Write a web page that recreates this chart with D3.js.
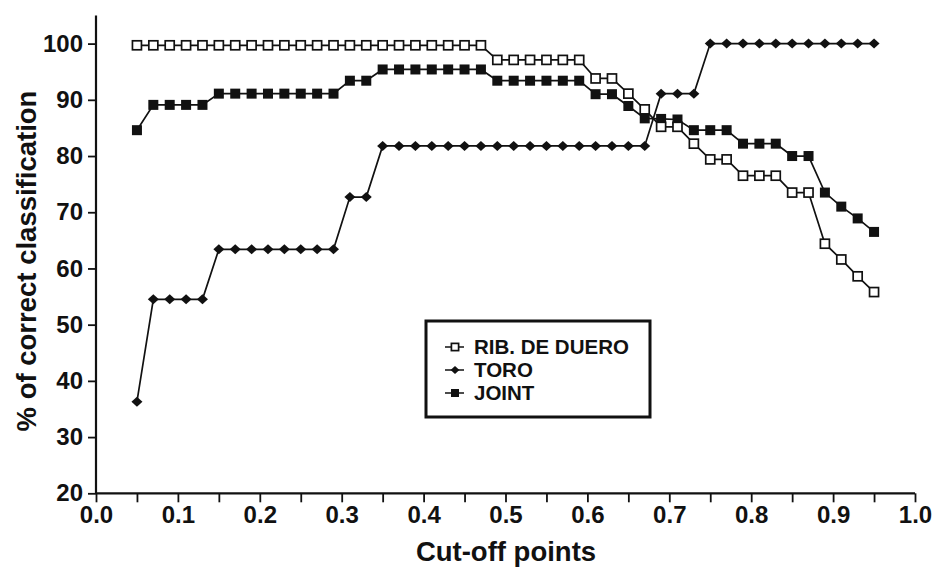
<!DOCTYPE html>
<html><head><meta charset="utf-8">
<script src="https://cdn.jsdelivr.net/npm/d3@7"></script>
<style>
html,body{margin:0;padding:0;background:#fff;}
text{font-family:"Liberation Sans",Arial,Helvetica,sans-serif;font-weight:bold;fill:#111;}
</style></head>
<body>
<svg id="chart" width="937" height="568"></svg>
<script>
const cutoffs = [0.05,0.07,0.09,0.11,0.13,0.15,0.17,0.19,0.21,0.23,0.25,0.27,0.29,0.31,0.33,0.35,0.37,0.39,0.41,0.43,0.45,0.47,0.49,0.51,0.53,0.55,0.57,0.59,0.61,0.63,0.65,0.67,0.69,0.71,0.73,0.75,0.77,0.79,0.81,0.83,0.85,0.87,0.89,0.91,0.93,0.95];
const ribDeDuero = [99.7,99.7,99.7,99.7,99.7,99.7,99.7,99.7,99.7,99.7,99.7,99.7,99.7,99.7,99.7,99.7,99.7,99.7,99.7,99.7,99.7,99.7,
  97.1,97.1,97.1,97.1,97.1,97.1,93.8,93.8,91.1,88.3,85.2,85.2,82.2,79.4,79.4,76.5,76.5,76.5,73.5,73.5,64.4,61.6,58.6,55.8];
const toro = [36.3,54.5,54.5,54.5,54.5,63.4,63.4,63.4,63.4,63.4,63.4,63.4,63.4,72.7,72.7,
  81.8,81.8,81.8,81.8,81.8,81.8,81.8,81.8,81.8,81.8,81.8,81.8,81.8,81.8,81.8,81.8,81.8,
  91.1,91.1,91.1,100,100,100,100,100,100,100,100,100,100,100];
const joint = [84.6,89.1,89.1,89.1,89.1,91.1,91.1,91.1,91.1,91.1,91.1,91.1,91.1,93.4,93.4,
  95.4,95.4,95.4,95.4,95.4,95.4,95.4,93.4,93.4,93.4,93.4,93.4,93.4,91.0,91.0,88.9,86.7,86.6,86.5,
  84.6,84.6,84.6,82.2,82.2,82.2,80.0,80.0,73.5,71.0,68.9,66.5];
const xTicks = [0,0.05,0.1,0.15,0.2,0.25,0.3,0.35,0.4,0.45,0.5,0.55,0.6,0.65,0.7,0.75,0.8,0.85,0.9,0.95,1.0];
const yTicks = [20,30,40,50,60,70,80,90,100];
const seriesNames = ["RIB. DE DUERO","TORO","JOINT"];

const svg = d3.select("#chart");
const x = d3.scaleLinear().domain([0,1]).range([96,915]);
const y = d3.scaleLinear().domain([20,105]).range([493.3,15.5]);

// axes
const xAxis = d3.axisBottom(x).tickValues(xTicks).tickSize(9).tickPadding(3)
  .tickFormat(d => (Math.round(d*100)%10===0) ? d3.format(".1f")(d) : "");
const gx = svg.append("g").attr("transform",`translate(0,${y(20)})`).call(xAxis);
gx.select(".domain").attr("stroke","#111").attr("stroke-width",2.2).attr("d",`M${x(0)},0H${x(1)}`);
gx.selectAll(".tick line").attr("stroke","#111").attr("stroke-width",1.8);
gx.selectAll(".tick text").attr("font-size",24).attr("dy","0.74em");

const yAxis = d3.axisLeft(y).tickValues(yTicks).tickSize(8).tickPadding(5);
const gy = svg.append("g").attr("transform",`translate(${x(0)},0)`).call(yAxis);
gy.select(".domain").attr("stroke","#111").attr("stroke-width",2.2).attr("d",`M0,${y(105)}V${y(20)}`);
gy.selectAll(".tick line").attr("stroke","#111").attr("stroke-width",1.8);
gy.selectAll(".tick text").attr("font-size",24);

// axis titles
svg.append("text").attr("x",506).attr("y",561).attr("text-anchor","middle").attr("font-size",27.5).text("Cut-off points");
svg.append("text").attr("transform",`translate(36,261) rotate(-90)`).attr("text-anchor","middle").attr("font-size",27.5).text("% of correct classification");

const line = d3.line().x((d,i)=>x(cutoffs[i])).y(d=>y(d));
const plot = svg.append("g");

function drawMarker(g, type, cx, cy, scale){
  const s = scale || 1;
  if(type==="open"){
    g.append("rect").attr("x",cx-4.5*s).attr("y",cy-4.5*s).attr("width",9*s).attr("height",9*s)
      .attr("fill","#fff").attr("stroke","#111").attr("stroke-width",1.7);
  } else if(type==="filled"){
    g.append("rect").attr("x",cx-5*s).attr("y",cy-5*s).attr("width",10*s).attr("height",10*s)
      .attr("fill","#111");
  } else {
    g.append("path").attr("d",`M${cx},${cy-5*s}L${cx+5.5*s},${cy}L${cx},${cy+5*s}L${cx-5.5*s},${cy}Z`).attr("fill","#111");
  }
}

const series = [
  {vals: toro, type:"diamond"},
  {vals: joint, type:"filled"},
  {vals: ribDeDuero, type:"open"}
];
series.forEach(s=>{
  plot.append("path").datum(s.vals).attr("d",line).attr("fill","none").attr("stroke","#111").attr("stroke-width",1.7);
});
series.forEach(s=>{
  const g = plot.append("g");
  s.vals.forEach((v,i)=>drawMarker(g,s.type,x(cutoffs[i]),y(v)));
});

// legend
const lg = svg.append("g");
lg.append("rect").attr("x",426).attr("y",321).attr("width",224).attr("height",96)
  .attr("fill","#fff").attr("stroke","#111").attr("stroke-width",3);
const types = ["open","diamond","filled"];
seriesNames.forEach((n,i)=>{
  const cy = 347 + i*23;
  lg.append("line").attr("x1",445).attr("x2",464).attr("y1",cy).attr("y2",cy).attr("stroke","#111").attr("stroke-width",1.5);
  drawMarker(lg, types[i], 455, cy, 0.8);
  lg.append("text").attr("x",474).attr("y",cy+7).attr("font-size",20.5).text(n);
});
</script>
</body></html>
